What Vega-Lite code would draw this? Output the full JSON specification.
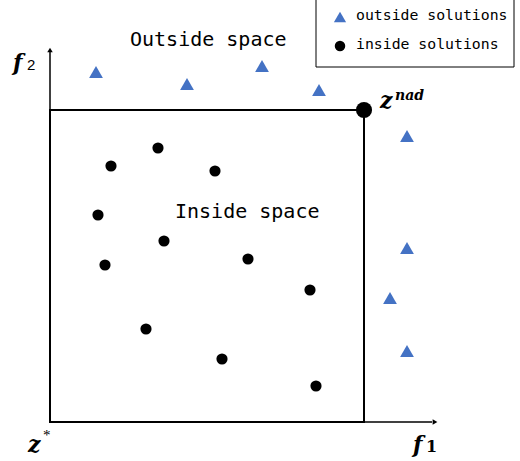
{
  "$schema": "https://vega.github.io/schema/vega-lite/v6.json",
  "width": 520,
  "height": 461,
  "autosize": {"type": "none"},
  "padding": 0,
  "background": "white",
  "config": {"view": {"stroke": null}},
  "datasets": {
    "outside": [
      {"f1": 96, "f2": 72}, {"f1": 187, "f2": 84}, {"f1": 262, "f2": 66}, {"f1": 319, "f2": 90},
      {"f1": 407, "f2": 136}, {"f1": 407, "f2": 248}, {"f1": 390, "f2": 298}, {"f1": 407, "f2": 351}
    ],
    "inside": [
      {"f1": 111, "f2": 166}, {"f1": 158, "f2": 148}, {"f1": 215, "f2": 171}, {"f1": 98, "f2": 215},
      {"f1": 164, "f2": 241}, {"f1": 105, "f2": 265}, {"f1": 248, "f2": 259}, {"f1": 310, "f2": 290},
      {"f1": 146, "f2": 329}, {"f1": 222, "f2": 359}, {"f1": 316, "f2": 386}
    ]
  },
  "encoding": {
    "x": {"type": "quantitative", "scale": {"domain": [0, 520]}, "axis": null},
    "y": {"type": "quantitative", "scale": {"domain": [0, 461], "reverse": true}, "axis": null}
  },
  "layer": [
    {
      "data": {"values": [{"x0": 316, "x1": 514, "y0": -2, "y1": 67}]},
      "mark": {"type": "rect", "fill": "white", "stroke": "black", "strokeWidth": 1},
      "encoding": {"x": {"field": "x0", "type": "quantitative"}, "x2": {"field": "x1"}, "y": {"field": "y0", "type": "quantitative"}, "y2": {"field": "y1"}}
    },
    {
      "data": {"values": [{"x0": 50, "x1": 364, "y0": 110, "y1": 422}]},
      "mark": {"type": "rect", "fill": null, "filled": false, "stroke": "black", "strokeWidth": 2},
      "encoding": {"x": {"field": "x0", "type": "quantitative"}, "x2": {"field": "x1"}, "y": {"field": "y0", "type": "quantitative"}, "y2": {"field": "y1"}}
    },
    {
      "data": {"values": [{"x0": 50, "x1": 50, "y0": 422, "y1": 52}, {"x0": 50, "x1": 432, "y0": 422, "y1": 422}]},
      "mark": {"type": "rule", "color": "black", "strokeWidth": 1.5},
      "encoding": {"x": {"field": "x0", "type": "quantitative"}, "x2": {"field": "x1"}, "y": {"field": "y0", "type": "quantitative"}, "y2": {"field": "y1"}}
    },
    {
      "data": {"values": [{"f1": 50, "f2": 50}]},
      "mark": {"type": "point", "shape": "triangle-up", "filled": true, "color": "black", "size": 30, "opacity": 1},
      "encoding": {"x": {"field": "f1", "type": "quantitative"}, "y": {"field": "f2", "type": "quantitative"}}
    },
    {
      "data": {"values": [{"f1": 435, "f2": 422}]},
      "mark": {"type": "point", "shape": "triangle-right", "filled": true, "color": "black", "size": 30, "opacity": 1},
      "encoding": {"x": {"field": "f1", "type": "quantitative"}, "y": {"field": "f2", "type": "quantitative"}}
    },
    {
      "data": {"name": "outside"},
      "mark": {"type": "point", "shape": "triangle-up", "filled": true, "color": "#4472C4", "size": 190, "opacity": 1},
      "encoding": {"x": {"field": "f1", "type": "quantitative"}, "y": {"field": "f2", "type": "quantitative"}}
    },
    {
      "data": {"name": "inside"},
      "mark": {"type": "circle", "color": "black", "size": 125, "opacity": 1},
      "encoding": {"x": {"field": "f1", "type": "quantitative"}, "y": {"field": "f2", "type": "quantitative"}}
    },
    {
      "data": {"values": [{"f1": 364, "f2": 110}]},
      "mark": {"type": "circle", "color": "black", "size": 260, "opacity": 1},
      "encoding": {"x": {"field": "f1", "type": "quantitative"}, "y": {"field": "f2", "type": "quantitative"}}
    },
    {
      "data": {"values": [{"f1": 340, "f2": 17}]},
      "mark": {"type": "point", "shape": "triangle-up", "filled": true, "color": "#4472C4", "size": 150, "opacity": 1},
      "encoding": {"x": {"field": "f1", "type": "quantitative"}, "y": {"field": "f2", "type": "quantitative"}}
    },
    {
      "data": {"values": [{"f1": 340, "f2": 46}]},
      "mark": {"type": "circle", "color": "black", "size": 110, "opacity": 1},
      "encoding": {"x": {"field": "f1", "type": "quantitative"}, "y": {"field": "f2", "type": "quantitative"}}
    },
    {
      "data": {"values": [{"f1": 356, "f2": 16, "t": "outside solutions"}, {"f1": 356, "f2": 45, "t": "inside solutions"}]},
      "mark": {"type": "text", "align": "left", "baseline": "middle", "font": "DejaVu Sans Mono", "fontSize": 14.8, "color": "black"},
      "encoding": {"x": {"field": "f1", "type": "quantitative"}, "y": {"field": "f2", "type": "quantitative"}, "text": {"field": "t"}}
    },
    {
      "data": {"values": [{"f1": 130, "f2": 40, "t": "Outside space"}, {"f1": 175, "f2": 212, "t": "Inside space"}]},
      "mark": {"type": "text", "align": "left", "baseline": "middle", "font": "DejaVu Sans Mono", "fontSize": 20, "color": "black"},
      "encoding": {"x": {"field": "f1", "type": "quantitative"}, "y": {"field": "f2", "type": "quantitative"}, "text": {"field": "t"}}
    },
    {
      "data": {"values": [{"f1": 13, "f2": 70, "t": "f"}, {"f1": 413, "f2": 452, "t": "f"}, {"f1": 28, "f2": 452, "t": "z"}, {"f1": 380, "f2": 108, "t": "z"}]},
      "mark": {"type": "text", "align": "left", "baseline": "alphabetic", "font": "DejaVu Serif", "fontStyle": "italic", "fontWeight": "bold", "fontSize": 22, "color": "black"},
      "encoding": {"x": {"field": "f1", "type": "quantitative"}, "y": {"field": "f2", "type": "quantitative"}, "text": {"field": "t"}}
    },
    {
      "data": {"values": [{"f1": 27, "f2": 70, "t": "2"}]},
      "mark": {"type": "text", "align": "left", "baseline": "alphabetic", "font": "Liberation Sans", "fontSize": 15, "color": "black"},
      "encoding": {"x": {"field": "f1", "type": "quantitative"}, "y": {"field": "f2", "type": "quantitative"}, "text": {"field": "t"}}
    },
    {
      "data": {"values": [{"f1": 426, "f2": 452, "t": "1"}]},
      "mark": {"type": "text", "align": "left", "baseline": "alphabetic", "font": "DejaVu Serif", "fontWeight": "bold", "fontSize": 16, "color": "black"},
      "encoding": {"x": {"field": "f1", "type": "quantitative"}, "y": {"field": "f2", "type": "quantitative"}, "text": {"field": "t"}}
    },
    {
      "data": {"values": [{"f1": 43, "f2": 440, "t": "*"}]},
      "mark": {"type": "text", "align": "left", "baseline": "alphabetic", "font": "Liberation Serif", "fontSize": 15, "color": "black"},
      "encoding": {"x": {"field": "f1", "type": "quantitative"}, "y": {"field": "f2", "type": "quantitative"}, "text": {"field": "t"}}
    },
    {
      "data": {"values": [{"f1": 395, "f2": 100, "t": "nad"}]},
      "mark": {"type": "text", "align": "left", "baseline": "alphabetic", "font": "DejaVu Serif", "fontStyle": "italic", "fontWeight": "bold", "fontSize": 14, "color": "black"},
      "encoding": {"x": {"field": "f1", "type": "quantitative"}, "y": {"field": "f2", "type": "quantitative"}, "text": {"field": "t"}}
    }
  ]
}
